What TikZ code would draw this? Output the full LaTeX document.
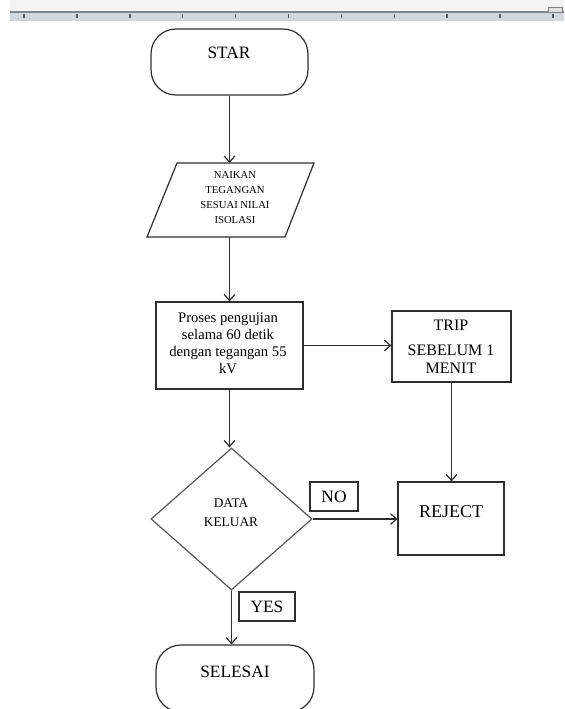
\documentclass[tikz,border=0pt]{standalone}
\usepackage{fontspec}
\setmainfont{Liberation Serif}
\usetikzlibrary{arrows.meta,shapes.geometric}
\definecolor{linec}{HTML}{2E2E2E}
\definecolor{diac}{HTML}{555555}
\definecolor{rulerband}{HTML}{D3D7DB}
\definecolor{rulerline}{HTML}{7F868C}
\definecolor{rulertop}{HTML}{F3F3F3}
\begin{document}
\begin{tikzpicture}[x=0.75pt,y=-0.75pt,
  shapebox/.style={draw=linec,line width=0.9pt,inner sep=0pt,rectangle},
  termbox/.style={shapebox,rounded corners=18.75pt},
  lbl/.style={align=center,inner sep=0pt,text=black},
  arr/.style={draw=linec,line width=0.9pt,-{Straight Barb[length=4.5pt,width=8pt,line width=0.9pt]}},
  plain/.style={draw=linec,line width=0.9pt}]
\useasboundingbox (0,0) rectangle (564,709);
\clip (0,0) rectangle (564,709);
% ruler
\fill[rulertop] (10,0) rectangle (564,11);
\fill[rulerband] (10,12) rectangle (564,21.5);
\draw[rulerline,line width=1.2pt] (10,12) -- (564,12);
\foreach \i in {0,...,10} {
  \draw[black!65,line width=1.1pt] ({24+52.9*\i},14.5) -- ({24+52.9*\i},18.5);
}
\draw[gray,fill=black!12,line width=0.5pt] (548,7) rectangle (562,12);
% nodes
\node[termbox,minimum width=117.75pt,minimum height=49.5pt] (star) at (229.5,62) {};
\node[lbl,font=\fontsize{13}{15}\selectfont] (startxt) at (229,53) {STAR};
% parallelogram
\coordinate (pa) at (147,237);
\coordinate (pb) at (177,163);
\coordinate (pc) at (314,163);
\coordinate (pd) at (285,237);
\draw[plain] (pa) -- (pb) -- (pc) -- (pd) -- cycle;
\coordinate (partop) at (229.5,163);
\coordinate (parbot) at (229.5,237);
\node[lbl,font=\fontsize{8}{11.25}\selectfont] (partxt) at (235,197.5) {NAIKAN\\TEGANGAN\\SESUAI NILAI\\ISOLASI};
% process
\node[shapebox,minimum width=110.25pt,minimum height=65.25pt] (proc) at (229.5,345.5) {};
\node[lbl,font=\fontsize{11}{12.75}\selectfont] (proctxt) at (228,343.5) {Proses pengujian\\selama 60 detik\\dengan tegangan 55\\kV};
% trip
\node[shapebox,minimum width=89.25pt,minimum height=53.25pt] (trip) at (451.5,346.5) {};
\node[lbl,font=\fontsize{12}{13.5}\selectfont] (triptxt) at (451,346.5) {TRIP\\[5pt]SEBELUM 1\\MENIT};
% diamond
\node[diamond,draw=diac,line width=0.9pt,inner sep=0pt,minimum width=120.75pt,minimum height=106.5pt] (dia) at (231.5,519) {};
\node[lbl,font=\fontsize{10}{14.25}\selectfont] (diatxt) at (231,512.5) {DATA\\KELUAR};
% reject
\node[shapebox,minimum width=79.5pt,minimum height=54.75pt] (rej) at (451,518.5) {};
\node[lbl,font=\fontsize{13.5}{15}\selectfont] (rejtxt) at (451,512) {REJECT};
% labels
\node[shapebox,minimum width=36pt,minimum height=21.75pt,font=\fontsize{13}{15}\selectfont] (no) at (334,496.5) {NO};
\node[shapebox,minimum width=42pt,minimum height=21.75pt,font=\fontsize{13}{15}\selectfont] (yes) at (267,606.5) {YES};
% selesai
\node[termbox,minimum width=118.5pt,minimum height=50.25pt] (sel) at (235,678.5) {};
\node[lbl,font=\fontsize{13}{15}\selectfont] (seltxt) at (235,672) {SELESAI};
% connectors
\draw[arr] (star.south) -- (partop);
\draw[arr] (parbot) -- (proc.north);
\draw[arr] (proc.east) -- (proc.east -| trip.west);
\draw[arr] (proc.south) -- (proc.south |- dia.north);
\draw[arr] (dia.east) -- (dia.east -| rej.west);
\draw[arr] (trip.south) -- (trip.south |- rej.north);
\draw[arr] (dia.south) -- (dia.south |- sel.north);
\end{tikzpicture}
\end{document}
